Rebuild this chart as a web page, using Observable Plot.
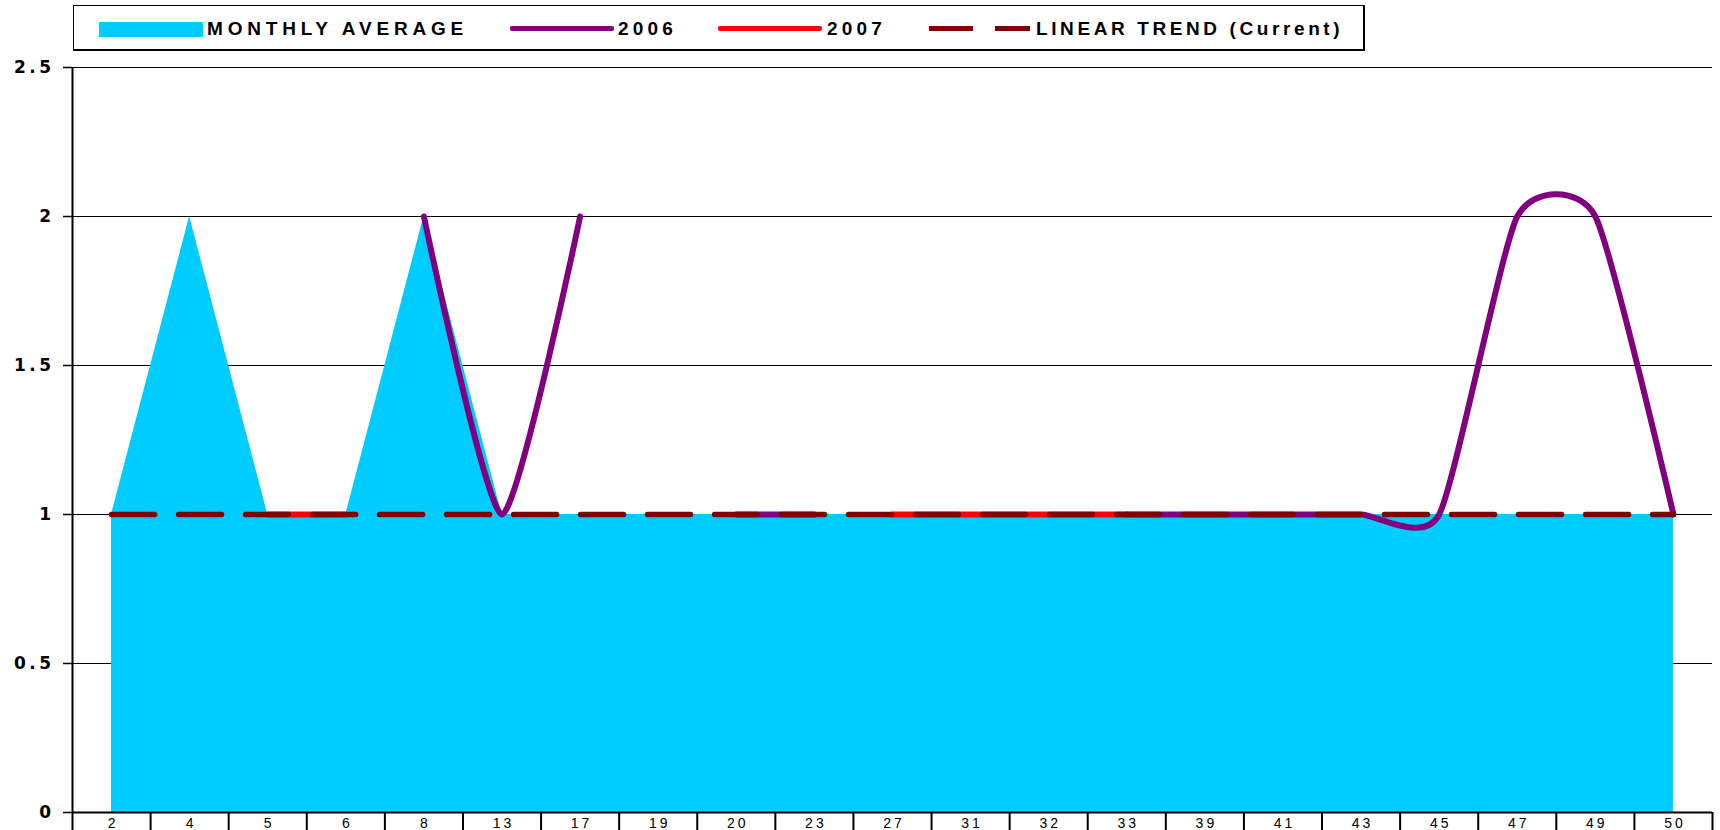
<!DOCTYPE html>
<html>
<head>
<meta charset="utf-8">
<script src="https://cdn.jsdelivr.net/npm/d3@7"></script>
<script src="https://cdn.jsdelivr.net/npm/@observablehq/plot@0.6"></script>
<style>
  html, body { margin: 0; padding: 0; background: #fff; }
  body { width: 1720px; height: 830px; overflow: hidden; font-family: "Liberation Sans", Arial, sans-serif; }
  #legend { position: relative; width: 1720px; height: 58px; }
  #legend .box { position: absolute; left: 73px; top: 5px; width: 1289px; height: 43px; border: 1px solid #000; border-right-width: 2px; border-bottom-width: 2px; }
  #legend .sw { position: absolute; }
  #legend .lbl { position: absolute; top: 18px; font-size: 19px; font-weight: bold; letter-spacing: 4.2px; line-height: 21px; color: #000; white-space: nowrap; }
</style>
</head>
<body>
<div id="legend">
  <div class="box"></div>
  <div class="sw" style="left:99px; top:22px; width:104px; height:15px; background:#00CCFF;"></div>
  <div class="lbl" style="left:207px; letter-spacing:4.8px;">MONTHLY AVERAGE</div>
  <div class="sw" style="left:510px; top:26px; width:104px; height:5px; background:#800080; border-radius:2px;"></div>
  <div class="lbl" style="left:618px;">2006</div>
  <div class="sw" style="left:718px; top:26px; width:104px; height:5px; background:#FF0000; border-radius:2px;"></div>
  <div class="lbl" style="left:827px;">2007</div>
  <div class="sw" style="left:929px; top:26px; width:44px; height:5px; background:#800000;"></div>
  <div class="sw" style="left:995px; top:26px; width:35px; height:5px; background:#800000;"></div>
  <div class="lbl" style="left:1036px; letter-spacing:3.6px;">LINEAR TREND (Current)</div>
</div>
<div id="chart"></div>
<script>
const categories = ["2","4","5","6","8","13","17","19","20","23","27","31","32","33","39","41","43","45","47","49","50"];
const monthlyAverage = [1,2,1,1,2,1,1,1,1,1,1,1,1,1,1,1,1,1,1,1,1];
const series2006 = [null,null,null,null,2,1,2,null,1,1,null,null,null,1,1,1,1,1,2,2,1];
const series2007 = [null,null,1,1,null,null,null,null,null,null,1,1,1,1,null,null,null,null,null,null,null];
const linearTrend = [1,1,1,1,1,1,1,1,1,1,1,1,1,1,1,1,1,1,1,1,1];
const yTicks = [0,0.5,1,1.5,2,2.5];

const rows = categories.map((c, i) => ({
  i, c,
  avg: monthlyAverage[i],
  s06: series2006[i],
  s07: series2007[i],
  trend: linearTrend[i]
}));
const idx = rows.map(d => d.i);
const boundaries = d3.range(categories.length + 1).map(k => k - 0.5);

const chart = Plot.plot({
  width: 1720,
  height: 772,
  marginLeft: 72,
  marginRight: 8,
  marginTop: 9,
  marginBottom: 18,
  style: { fontFamily: "'Liberation Sans', Arial, sans-serif", color: "#000", background: "#fff" },
  x: { type: "linear", domain: [-0.5, categories.length - 0.5], label: null },
  y: { domain: [0, 2.5], label: null },
  marks: [
    Plot.gridY(yTicks, { stroke: "#000", strokeOpacity: 1, strokeWidth: 1.2 }),
    Plot.areaY(rows, { x: "i", y: "avg", fill: "#00CCFF" }),
    Plot.line(rows, { x: "i", y: "s06", stroke: "#800080", strokeWidth: 6, curve: "cardinal", tension: 0.4, strokeLinejoin: "round", strokeLinecap: "round" }),
    Plot.line(rows, { x: "i", y: "s07", stroke: "#FF0000", strokeWidth: 6, curve: "cardinal", tension: 0.4, strokeLinejoin: "round", strokeLinecap: "round" }),
    Plot.line(rows, { x: "i", y: "trend", stroke: "#800000", strokeWidth: 5.5, strokeDasharray: "43,24" }),
    Plot.ruleX([-0.5], { stroke: "#000", strokeWidth: 2 }),
    Plot.ruleY([0], { stroke: "#000", strokeWidth: 2 }),
    Plot.axisY(yTicks, { label: null, tickSize: 9, tickPadding: 9, fontSize: 17, fontWeight: "bold", fontFamily: "'DejaVu Sans', sans-serif", tickFormat: d => String(d), stroke: "#000", strokeWidth: 1.5 }),
    Plot.axisX(boundaries, { label: null, tickSize: 18, tickFormat: () => "", stroke: "#000", strokeWidth: 2 }),
    Plot.axisX(idx, { label: null, tickSize: 0, tickPadding: 6, fontSize: 14, dx: 1.5, tickFormat: i => categories[i] })
  ]
});
document.getElementById("chart").appendChild(chart);
d3.select(chart).selectAll('g[aria-label="y-axis tick label"] text')
  .style("font-weight", "bold")
  .style("font-family", "'DejaVu Sans', sans-serif")
  .style("font-size", "17px")
  .style("letter-spacing", "3.5px");
d3.select(chart).selectAll('g[aria-label="x-axis tick label"] text')
  .style("letter-spacing", "3px");
</script>
</body>
</html>
